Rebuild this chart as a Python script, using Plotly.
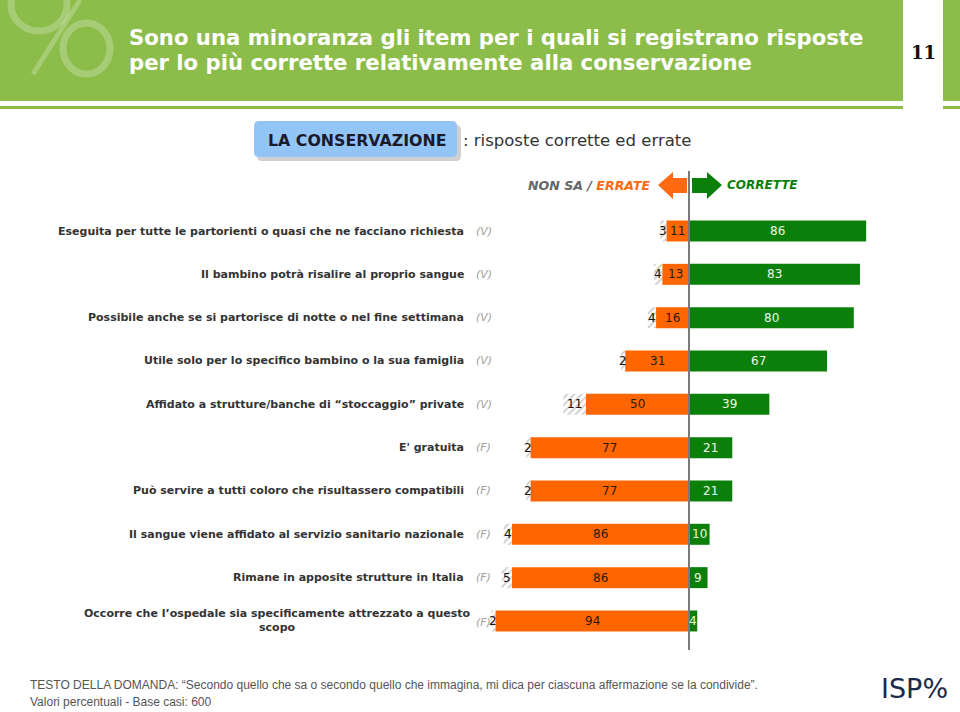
import plotly.graph_objects as go

# ---------------- data ----------------
items = [
    "Eseguita per tutte le partorienti o quasi che ne facciano richiesta",
    "Il bambino potrà risalire al proprio sangue",
    "Possibile anche se si partorisce di notte o nel fine settimana",
    "Utile solo per lo specifico bambino o la sua famiglia",
    "Affidato a strutture/banche di “stoccaggio” private",
    "E' gratuita",
    "Può servire a tutti coloro che risultassero compatibili",
    "Il sangue viene affidato al servizio sanitario nazionale",
    "Rimane in apposite strutture in Italia",
    "Occorre che l’ospedale sia specificamente attrezzato a questo<br>scopo",
]
tipo = ["(V)", "(V)", "(V)", "(V)", "(V)", "(F)", "(F)", "(F)", "(F)", "(F)"]
non_sa = [3, 4, 4, 2, 11, 2, 2, 4, 5, 2]
errate = [11, 13, 16, 31, 50, 77, 77, 86, 86, 94]
corrette = [86, 83, 80, 67, 39, 21, 21, 10, 9, 4]

title_lines = ["Sono una minoranza gli item per i quali si registrano risposte",
               "per lo più corrette relativamente alla conservazione"]
page_no = "11"
box_text = "LA CONSERVAZIONE"
subtitle = ": risposte corrette ed errate"
footer1 = "TESTO DELLA DOMANDA: “Secondo quello che sa o secondo quello che immagina, mi dica per ciascuna affermazione se la condivide”."
footer2 = "Valori percentuali - Base casi: 600"

# ---------------- style ----------------
W, H = 960, 712
ORANGE = "#ff6600"
GREEN = "#0a800a"
HEAD = "#8cbd4b"
PXU = 2.06      # pixels per percentage point
X0 = 689        # pixel position of zero line
ROW0, ROWH = 231, 43.33
BARW = 21 / ROWH
rows = list(range(len(items)))

fig = go.Figure()

fig.add_trace(go.Bar(y=rows, x=errate, base=[-e for e in errate], orientation="h",
                     width=BARW, marker=dict(color=ORANGE, line=dict(width=0)),
                     hoverinfo="skip", showlegend=False))
fig.add_trace(go.Bar(y=rows, x=non_sa, base=[-(e + n) for e, n in zip(errate, non_sa)],
                     orientation="h", width=BARW,
                     marker=dict(color="white", line=dict(width=0),
                                 pattern=dict(shape="/", fgcolor="#a0a0a0", bgcolor="white",
                                              size=5, solidity=0.4)),
                     hoverinfo="skip", showlegend=False))
fig.add_trace(go.Bar(y=rows, x=corrette, base=[0] * len(rows), orientation="h",
                     width=BARW, marker=dict(color=GREEN, line=dict(width=0)),
                     hoverinfo="skip", showlegend=False))
# helper trace to instantiate pixel axes
fig.add_trace(go.Scatter(x=[0], y=[0], xaxis="x2", yaxis="y2", mode="markers",
                         marker=dict(opacity=0), hoverinfo="skip", showlegend=False))

ann = []
VAL_FONT = dict(family="DejaVu Sans", size=12)
for i in rows:
    e, n, c = errate[i], non_sa[i], corrette[i]
    ann.append(dict(x=-e / 2, y=i, xref="x", yref="y", text=str(e), showarrow=False,
                    font=dict(VAL_FONT, color="#2a1a0a")))
    ann.append(dict(x=c / 2, y=i, xref="x", yref="y", text=str(c), showarrow=False,
                    font=dict(VAL_FONT, color="#eef8ea")))
    ann.append(dict(x=-(e + n / 2), y=i, xref="x", yref="y", text=str(n), showarrow=False,
                    font=dict(VAL_FONT, color="#111111")))
    last = i == len(rows) - 1
    ann.append(dict(x=473 if last else 466, y=i, xref="x2", yref="y", text=items[i],
                    showarrow=False, xanchor="right", align="center",
                    font=dict(family="DejaVu Sans", size=11, color="#333333",
                              weight="bold")))
    ann.append(dict(x=474, y=i, xref="x2", yref="y", text="<i>" + tipo[i] + "</i>",
                    showarrow=False, xanchor="left", yshift=-2 if last else 0,
                    font=dict(family="DejaVu Sans", size=11, color="#a0a0a0")))

# header texts
ann.append(dict(x=127, y=37, xref="x2", yref="y2", text=title_lines[0], showarrow=False,
                xanchor="left", font=dict(family="DejaVu Sans", size=21.2, color="white",
                                          weight="bold")))
ann.append(dict(x=127, y=62, xref="x2", yref="y2", text=title_lines[1], showarrow=False,
                xanchor="left", font=dict(family="DejaVu Sans", size=21.2, color="white",
                                          weight="bold")))
ann.append(dict(x=923, y=52, xref="x2", yref="y2", text=page_no, showarrow=False,
                font=dict(family="DejaVu Serif", size=18, color="#111111", weight="bold")))
ann.append(dict(x=357, y=140, xref="x2", yref="y2", text=box_text, showarrow=False,
                font=dict(family="DejaVu Sans", size=15.8, color="#1a1a2a", weight="bold")))
ann.append(dict(x=461, y=140, xref="x2", yref="y2", text=subtitle, showarrow=False,
                xanchor="left", font=dict(family="DejaVu Sans", size=16.5, color="#333333")))
ann.append(dict(x=652, y=185, xref="x2", yref="y2",
                text="<b><i>NON SA / <span style='color:#ff6a10'>ERRATE</span></i></b>",
                showarrow=False, xanchor="right",
                font=dict(family="DejaVu Sans", size=12.6, color="#666666")))
ann.append(dict(x=725, y=185, xref="x2", yref="y2", text="<b><i>CORRETTE</i></b>",
                showarrow=False, xanchor="left",
                font=dict(family="DejaVu Sans", size=12, color=GREEN)))
ann.append(dict(x=28, y=685, xref="x2", yref="y2", text=footer1, showarrow=False,
                xanchor="left", font=dict(family="Liberation Sans", size=12, color="#555555")))
ann.append(dict(x=28, y=702, xref="x2", yref="y2", text=footer2, showarrow=False,
                xanchor="left", font=dict(family="Liberation Sans", size=12, color="#555555")))
ann.append(dict(x=914, y=688, xref="x2", yref="y2",
                text="ISP%", showarrow=False,
                font=dict(family="DejaVu Sans", size=27, color="#1c2b4a")))

# ---------------- shapes (pixel coords on x2/y2) ----------------
S = dict(xref="x2", yref="y2")
WM = "rgba(255,255,255,0.24)"
shapes = [
    dict(type="rect", x0=0, x1=903, y0=0, y1=101, fillcolor=HEAD, line_width=0, layer="below", **S),
    dict(type="rect", x0=943, x1=960, y0=0, y1=101, fillcolor=HEAD, line_width=0, layer="below", **S),
    dict(type="rect", x0=0, x1=903, y0=106, y1=109, fillcolor=HEAD, line_width=0, layer="below", **S),
    dict(type="rect", x0=943, x1=960, y0=106, y1=109, fillcolor=HEAD, line_width=0, layer="below", **S),
    # percent watermark
    dict(type="circle", x0=11, x1=67, y0=-22, y1=31, line=dict(color=WM, width=7), layer="below", **S),
    dict(type="circle", x0=63, x1=110, y0=23, y1=74, line=dict(color=WM, width=7), layer="below", **S),
    dict(type="line", x0=80, x1=33, y0=0, y1=74, line=dict(color=WM, width=5), layer="below", **S),
    # title box shadow + box
    dict(type="path", path="M 262 125 L 456 125 Q 461 125 461 130 L 461 156 Q 461 161 456 161 L 262 161 Q 257 161 257 156 L 257 130 Q 257 125 262 125 Z",
         fillcolor="rgba(120,120,120,0.35)", line_width=0, layer="below", **S),
    dict(type="path", path="M 259 121 L 452 121 Q 457 121 457 126 L 457 152 Q 457 157 452 157 L 259 157 Q 254 157 254 152 L 254 126 Q 254 121 259 121 Z",
         fillcolor="#92c5f6", line_width=0, layer="below", **S),
    # arrows
    dict(type="path", path="M 658 185 L 673 172 L 673 178 L 687 178 L 687 193 L 673 193 L 673 199 Z",
         fillcolor="#ff6a10", line_width=0, **S),
    dict(type="path", path="M 722 185 L 707 172 L 707 178 L 692 178 L 692 193 L 707 193 L 707 199 Z",
         fillcolor=GREEN, line_width=0, **S),
    # zero line
    dict(type="line", x0=X0, x1=X0, y0=171, y1=650, line=dict(color="#7a7a7a", width=2), layer="above", **S),
]

fig.update_layout(
    width=W, height=H, margin=dict(l=0, r=0, t=0, b=0),
    paper_bgcolor="white", plot_bgcolor="white", barmode="overlay",
    xaxis=dict(range=[-X0 / PXU, (W - X0) / PXU], visible=False, domain=[0, 1], fixedrange=True),
    yaxis=dict(range=[(H - ROW0) / ROWH, -ROW0 / ROWH], visible=False, domain=[0, 1], fixedrange=True),
    xaxis2=dict(range=[0, W], visible=False, overlaying="x", anchor="y2", fixedrange=True),
    yaxis2=dict(range=[H, 0], visible=False, overlaying="y", anchor="x2", fixedrange=True),
    annotations=ann, shapes=shapes, showlegend=False,
)

fig.write_html("out.html", config={"displayModeBar": False},
               post_script="document.body.style.margin='0px';document.body.style.overflow='hidden';")
